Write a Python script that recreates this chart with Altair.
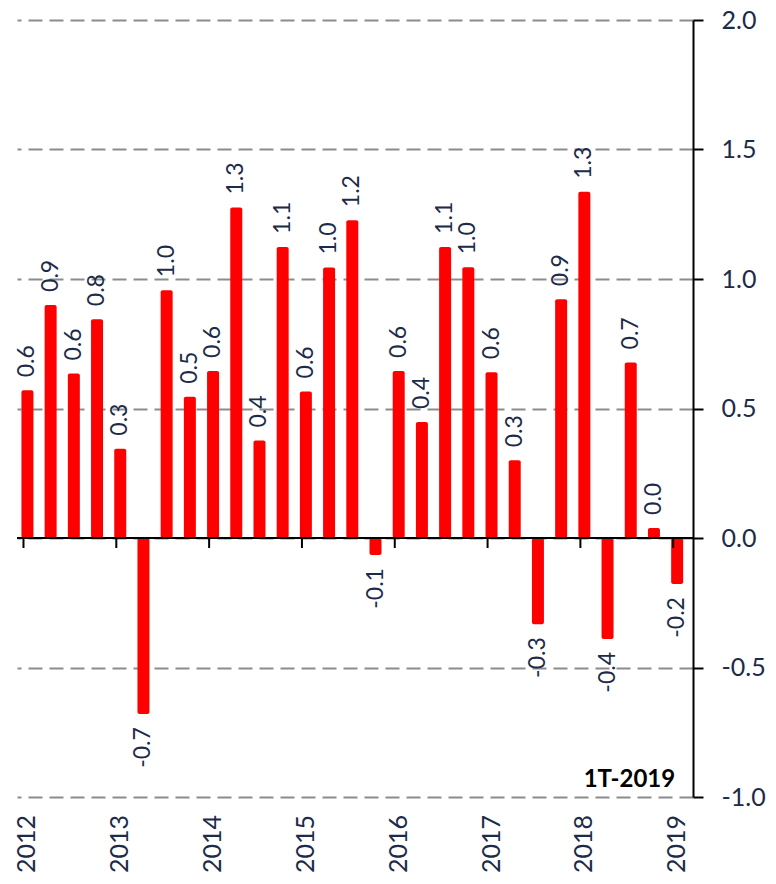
import altair as alt
import pandas as pd

# Quarterly values (1T-2012 .. 1T-2019)
quarters = [f"{q}T-{y}" for y in range(2012, 2020) for q in range(1, 5)][:29]
values = [0.57, 0.90, 0.635, 0.845, 0.345, -0.68, 0.957, 0.545, 0.645, 1.276,
          0.376, 1.124, 0.566, 1.044, 1.227, -0.066, 0.645, 0.448, 1.124, 1.045,
          0.64, 0.30, -0.333, 0.922, 1.337, -0.39, 0.678, 0.039, -0.178]
years = ["2012", "2013", "2014", "2015", "2016", "2017", "2018", "2019"]
year_start = [0, 4, 8, 12, 16, 20, 24, 28]
y_ticks = [-1.0, -0.5, 0.0, 0.5, 1.0, 1.5, 2.0]

NAVY = "#1c2b49"
FONT = "Lato"

df = pd.DataFrame({"i": list(range(len(values))), "q": quarters, "v": values})
ydf = pd.DataFrame({"i": year_start, "year": years,
                    "tick": [s - 0.17 for s in year_start]})
last = pd.DataFrame({"i": [len(values) - 1], "q": [quarters[-1]], "v": [y_ticks[0]]})
zero = pd.DataFrame({"v": [0.0]})

xscale = alt.Scale(domain=[-0.234, 28.467], nice=False, zero=False)
yscale = alt.Scale(domain=[-1, 2], nice=False, zero=False)

X = alt.X("i:Q", scale=xscale, axis=None)
LBL = "replace(format(datum.v, '.1f'), '\u2212', '-')"

bars = alt.Chart(df).mark_bar(size=12, color="#ff0000", cornerRadius=2).encode(
    x=X,
    y=alt.Y("v:Q", scale=yscale, title=None,
            axis=alt.Axis(orient="right", values=y_ticks, format=".1f",
                          labelExpr="replace(datum.label, '\u2212', '-')",
                          grid=True, gridDash=[14, 7], gridColor="#8c8c8c",
                          gridWidth=2, domainColor="black", domainWidth=2,
                          tickColor="black", tickWidth=2, tickSize=10,
                          labelFontSize=25, labelColor=NAVY, labelFont=FONT,
                          labelPadding=18)),
    y2=alt.datum(0),
)

zero_line = alt.Chart(zero).mark_rule(color="black", strokeWidth=2).encode(
    y=alt.Y("v:Q", scale=yscale)
)

ticks = alt.Chart(ydf).mark_rule(color="black", strokeWidth=2).encode(
    x=alt.X("tick:Q", scale=xscale, axis=None),
    y=alt.datum(0),
    y2=alt.value(528),
)

pos_labels = alt.Chart(df).transform_filter("datum.v >= 0").transform_calculate(
    lbl=LBL
).mark_text(
    angle=270, align="left", baseline="middle", dx=13,
    fontSize=23, color=NAVY, font=FONT
).encode(x=X, y=alt.Y("v:Q", scale=yscale), text="lbl:N")

neg_labels = alt.Chart(df).transform_filter("datum.v < 0").transform_calculate(
    lbl=LBL
).mark_text(
    angle=270, align="right", baseline="middle", dx=-13,
    fontSize=23, color=NAVY, font=FONT
).encode(x=X, y=alt.Y("v:Q", scale=yscale), text="lbl:N")

year_labels = alt.Chart(ydf).mark_text(
    angle=270, align="right", baseline="middle", dx=-18,
    fontSize=25, color=NAVY, font=FONT
).encode(x=X, y=alt.datum(-1.0), text="year:N")

note = alt.Chart(last).mark_text(
    align="right", baseline="alphabetic", dx=-2, dy=-10,
    fontSize=24, fontWeight="bold", color="black", font=FONT
).encode(x=X, y=alt.Y("v:Q", scale=yscale), text="q:N")

chart = alt.layer(bars, zero_line, ticks, pos_labels, neg_labels, year_labels, note).properties(
    width=676, height=777,
    autosize=alt.AutoSizeParams(type="none"),
    padding={"left": 9, "top": 12, "right": 74, "bottom": 77},
).configure_view(stroke=None)

chart.save("out.html", embed_options={"renderer": "svg", "actions": False})
